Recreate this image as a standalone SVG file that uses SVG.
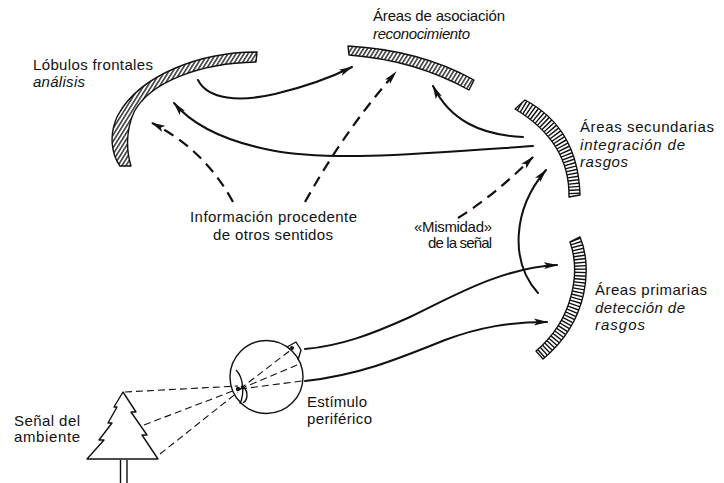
<svg xmlns="http://www.w3.org/2000/svg" width="724" height="483" viewBox="0 0 724 483">
  <style>
    text { font-family: "Liberation Sans", Arial, sans-serif; font-size: 15px; fill: #111; }
    .it { font-style: italic; }
    .band { stroke: #111; stroke-width: 1.4; stroke-linejoin: round; }
    .rungs { fill: none; stroke: #111; stroke-width: 14; stroke-dasharray: 1.4 1.9; }
    .solid { fill: none; stroke: #111; stroke-width: 2; stroke-linecap: round; marker-end: url(#ah); }
    .dash { fill: none; stroke: #111; stroke-width: 2.2; stroke-dasharray: 11 7; marker-end: url(#ah); }
    .ray { fill: none; stroke: #111; stroke-width: 1.1; stroke-dasharray: 7 4; }
    .line { fill: none; stroke: #111; stroke-width: 1.4; stroke-linejoin: round; }
  </style>
  <defs>
    <pattern id="hatchA" width="3.4" height="10" patternUnits="userSpaceOnUse" patternTransform="rotate(32)">
      <rect width="3.4" height="10" fill="#fff"/>
      <line x1="0.8" y1="0" x2="0.8" y2="10" stroke="#111" stroke-width="1.3"/>
    </pattern>
    <clipPath id="clipSec">
      <path d="M525,100 Q578,128 580,195 L569,197 Q570,142 515,109 Z"/>
    </clipPath>
    <clipPath id="clipPri">
      <path d="M580,237 C592,265 590,320 543,359 L536,351 C575,318 580,270 570,242 Z"/>
    </clipPath>
    <marker id="ah" viewBox="0 0 14 8" refX="13" refY="4" markerWidth="14" markerHeight="8" markerUnits="userSpaceOnUse" orient="auto">
      <path d="M0,0.6 L14,4 L0,7.4 L3,4 Z" fill="#111"/>
    </marker>
  </defs>

  <rect width="724" height="483" fill="#fff"/>

  <!-- frontal lobes -->
  <g id="frontal">
    <path class="band" fill="url(#hatchA)" d="M257,52 C200,52 140,75 118,115 C108,135 112,155 120,166 L131,166 C126,150 126,130 134,112 C150,82 200,63 256,62 Z"/>
    <text x="33" y="70" textLength="120">Lóbulos frontales</text>
    <text class="it" x="33" y="87" textLength="52">análisis</text>
  </g>

  <!-- association areas -->
  <g id="association">
    <path class="band" fill="url(#hatchA)" d="M348,46 Q420,50 474,80 L469,90 Q415,60 349,55 Z"/>
    <text x="373" y="21" textLength="132">Áreas de asociación</text>
    <text class="it" x="373" y="39" textLength="97">reconocimiento</text>
  </g>

  <!-- secondary areas: rungs across the band -->
  <g id="secondary">
    <path d="M525,100 Q578,128 580,195 L569,197 Q570,142 515,109 Z" fill="#fff"/>
    <path class="rungs" clip-path="url(#clipSec)" d="M520,104.5 Q574,135 574.5,196"/>
    <path class="band" fill="none" d="M525,100 Q578,128 580,195 L569,197 Q570,142 515,109 Z"/>
    <text x="580" y="132" textLength="134">Áreas secundarias</text>
    <text class="it" x="580" y="150" textLength="105">integración de</text>
    <text class="it" x="580" y="167" textLength="48">rasgos</text>
  </g>

  <!-- primary areas: rungs across the band -->
  <g id="primary">
    <path d="M580,237 C592,265 590,320 543,359 L536,351 C575,318 580,270 570,242 Z" fill="#fff"/>
    <path class="rungs" clip-path="url(#clipPri)" d="M575,239.5 C586,267.5 582.5,319 539.5,355"/>
    <path class="band" fill="none" d="M580,237 C592,265 590,320 543,359 L536,351 C575,318 580,270 570,242 Z"/>
    <text x="595" y="295" textLength="112">Áreas primarias</text>
    <text class="it" x="595" y="313" textLength="90">detección de</text>
    <text class="it" x="595" y="330" textLength="50">rasgos</text>
  </g>

  <!-- label for other senses -->
  <g id="other-senses">
    <text x="190" y="222" textLength="167">Información procedente</text>
    <text x="213" y="240" textLength="120">de otros sentidos</text>
  </g>

  <!-- sameness label -->
  <g id="sameness">
    <text x="414" y="232" textLength="78">«Mismidad»</text>
    <text x="428" y="248" textLength="64">de la señal</text>
  </g>

  <!-- eye -->
  <g id="eye">
    <circle class="line" cx="266.5" cy="377" r="36.5" fill="none"/>
    <path class="line" d="M236,370 C243,377 245,392 240,404"/>
    <path class="line" d="M241,386 C248,388 249,399 243,403"/>
    <circle cx="238" cy="389" r="2.2" fill="#111"/>
    <path class="line" d="M287,347 L296,342 L301,350 L298,360"/>
    <circle cx="292" cy="348" r="2" fill="#111"/>
    <text x="307" y="407" textLength="60">Estímulo</text>
    <text x="307" y="424" textLength="65">periférico</text>
  </g>

  <!-- tree -->
  <g id="tree">
    <path class="line" fill="#fff" d="M123,392 L136,412 L131,412 L147,435 L142,435 L158,459 L87,459 L104,440 L99,440 L112,423 L108,423 L117,407 L114,407 Z"/>
    <path class="line" d="M120.5,460 V483 M127,460 V483"/>
    <text x="14" y="426" textLength="66">Señal del</text>
    <text x="14" y="442" textLength="66">ambiente</text>
  </g>

  <!-- connectors -->
  <g id="connectors">
    <!-- light rays from tree through lens to retina -->
    <path class="ray" d="M125,392 L238,386"/>
    <path class="ray" d="M144,425 L238,389"/>
    <path class="ray" d="M160,454 L238,392"/>
    <path class="ray" d="M240,389 L292,349"/>
    <path class="ray" d="M240,389 L297,365"/>
    <path class="ray" d="M240,389 L302,381"/>

    <!-- eye to primary areas -->
    <path class="solid" d="M305,349 C340,346 370,335 410,317 C450,298 500,268 557,265"/>
    <path class="solid" d="M305,381 C360,375 400,358 445,340 C480,327 510,322 547,322"/>

    <!-- primary to secondary -->
    <path class="solid" d="M538,293 C510,262 512,210 546,170"/>

    <!-- secondary to association and frontal -->
    <path class="solid" d="M523,137 C480,135 450,120 433,86"/>
    <path class="solid" d="M533,146 C420,154 330,162 270,150 C220,140 190,122 174,103"/>

    <!-- frontal to association -->
    <path class="solid" d="M198,80 C208,100 240,102 275,94 C300,88 330,78 352,67"/>

    <!-- dashed inputs -->
    <path class="dash" d="M233,202 Q205,150 152,123"/>
    <path class="dash" d="M305,202 Q345,130 396,72"/>
    <path class="dash" d="M458,218 Q495,195 533,157"/>
  </g>
</svg>
